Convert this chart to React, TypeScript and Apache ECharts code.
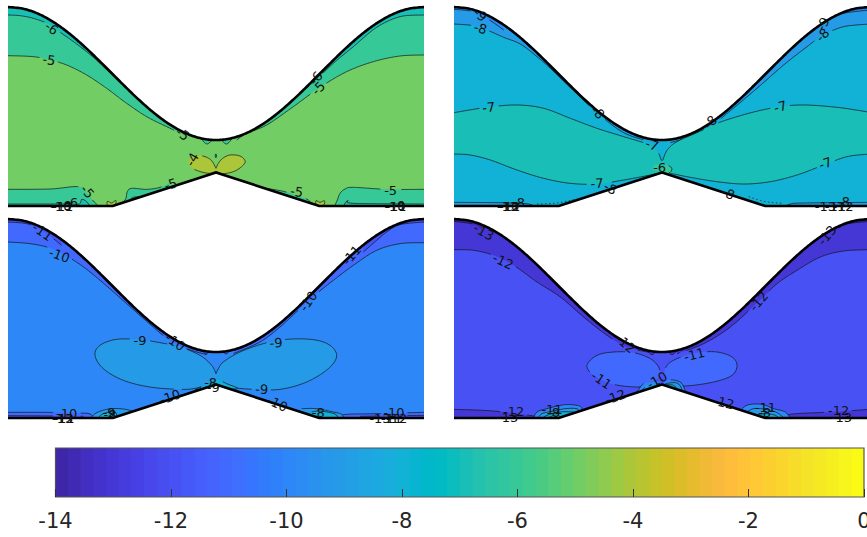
import React, { useEffect, useRef } from "react";
import * as echarts from "echarts";

type Pt = number[];
type Region = { level: number; line: Pt[]; close: string; dash?: boolean };
type Label = any[];

const PARULA: number[][] = [
  [0.2422,0.1504,0.6603],[0.2504,0.165,0.7076],[0.2578,0.1818,0.7511],[0.2647,0.1978,0.7952],[0.2706,0.2147,0.8364],[0.2751,0.2342,0.871],[0.2783,0.2559,0.8991],[0.2803,0.2782,0.9221],
  [0.2813,0.3006,0.9414],[0.281,0.3228,0.9579],[0.2795,0.3447,0.9717],[0.276,0.3667,0.9829],[0.2699,0.3892,0.9906],[0.2602,0.4123,0.9952],[0.244,0.4358,0.9988],[0.2206,0.4603,0.9973],
  [0.1963,0.4847,0.9892],[0.1834,0.5074,0.9798],[0.1786,0.5289,0.9682],[0.1764,0.5499,0.952],[0.1687,0.5703,0.9359],[0.154,0.5902,0.9218],[0.146,0.6091,0.9079],[0.138,0.6276,0.8973],
  [0.1248,0.6459,0.8883],[0.1113,0.6635,0.8763],[0.0952,0.6798,0.8598],[0.0689,0.6948,0.8394],[0.0297,0.7082,0.8163],[0.0036,0.7203,0.7917],[0.0067,0.7312,0.766],[0.0433,0.7411,0.7394],
  [0.0964,0.75,0.712],[0.1408,0.7584,0.6842],[0.1717,0.767,0.6554],[0.1938,0.7758,0.6251],[0.2161,0.7843,0.5923],[0.247,0.7918,0.5567],[0.2906,0.7973,0.5188],[0.3406,0.8008,0.4789],
  [0.3909,0.8029,0.4354],[0.4456,0.8024,0.3909],[0.5044,0.7993,0.348],[0.5616,0.7942,0.3045],[0.6174,0.7876,0.2612],[0.672,0.7793,0.2227],[0.7242,0.7698,0.191],[0.7738,0.7598,0.1646],
  [0.8203,0.7498,0.1535],[0.8634,0.7406,0.1596],[0.9035,0.733,0.1774],[0.9393,0.7288,0.21],[0.9728,0.7298,0.2394],[0.9956,0.7434,0.2371],[0.997,0.7659,0.2199],[0.9952,0.7893,0.2028],
  [0.9892,0.8136,0.1885],[0.9786,0.8386,0.1766],[0.9676,0.8639,0.1643],[0.961,0.889,0.1537],[0.9597,0.9135,0.1423],[0.9628,0.9373,0.1265],[0.9691,0.9606,0.1064],[0.9769,0.9839,0.0805],
];

const UPPER_WALL: Pt[] = [[24,21],[72,26.7],[120,43.8],[168,71.1],[216,107.1],[264,149.7],[312,196.5],[360,244.5],[408,291.3],[456,333.9],[504,369.9],[552,397.2],[600,414.3],[648,420],[696,414.3],[744,397.2],[792,369.9],[840,333.9],[888,291.3],[936,244.5],[984,196.5],[1032,149.7],[1080,107.1],[1128,71.1],[1176,43.8],[1224,26.7],[1272,21]];
const LOWER_WALL: Pt[] = [[24,618],[338,618],[648,517.5],[958,618],[1272,618]];

const P1_BASE = -5;
const P1_REGIONS: Region[] = [
  { level: -6, close: "up", line: [[24,167],[100,170],[150,180],[200,195],[260,225],[320,265],[380,310],[440,350],[500,380],[560,408]] },
  { level: -6, close: "up", line: [[1272,165],[1200,168],[1120,185],[1040,215],[960,262],[880,320],[800,375],[740,400],[710,420]] },
  { level: -7, close: "up", line: [[24,45],[60,47],[100,55],[145,72],[185,100],[230,132],[280,172],[340,228]] },
  { level: -7, close: "up", line: [[1272,45],[1200,50],[1130,82],[1060,140],[1000,190],[950,238],[910,272]] },
  { level: -6, close: "up", line: [[605,418],[620,432],[635,422]] },
  { level: -6, close: "up", line: [[665,422],[680,432],[695,418]] },
  { level: -6, close: "down", line: [[24,568],[150,567],[235,560],[262,580],[280,603],[300,622]] },
  { level: -6, close: "down", line: [[345,622],[375,600],[382,575],[395,565],[440,568],[480,562],[510,548]] },
  { level: -6, close: "down", line: [[785,563],[850,574],[900,590],[925,600],[950,625]] },
  { level: -6, close: "down", line: [[1002,622],[1012,600],[1020,580],[1035,567],[1060,562],[1160,568],[1272,568]] },
  { level: -7, close: "down", line: [[24,612],[200,612],[238,612],[245,598],[260,605],[272,622]] },
  { level: -7, close: "down", line: [[1030,622],[1036,608],[1045,602],[1060,610],[1272,612]] },
  { level: -7, close: "open", line: [[385,604],[400,592],[425,590]] },
  { level: -4, close: "loop", line: [[322,618],[322,604],[335,609],[347,601],[347,612],[340,618],[322,618]] },
  { level: -4, close: "loop", line: [[948,618],[948,602],[960,607],[973,602],[973,612],[966,618],[948,618]] },
  { level: -4, close: "loop", line: [[648,505],[635,482],[615,470],[590,466],[572,475],[567,490],[580,506],[605,516],[630,520],[648,515],[670,521],[705,513],[730,495],[735,482],[720,468],[690,465],[668,475],[655,490],[648,505]] },
  { level: -7, close: "loop", line: [[646,463],[649,463],[649,472],[646,472],[646,463]] },
];
const P1_LABELS: Label[] = [
  ["-6",155,85,-35],["-5",147,180,-8],["-6",948,235,50],["-5",955,265,45],["-5",262,575,-50],["-5",548,402,-35],
  ["-4",577,478,60],["-5",512,553,18],["-5",890,575,-8],["-5",1172,570,0],["-6",215,607,0,0],
  ["-10",183,618,0,0],["-11",188,618,0,0],["-9",197,617,0,0],["-10",1185,618,0,0],["-9",1197,617,0,0],["-11",1188,618,0,0],
];

const P2_BASE = -8;
const P2_REGIONS: Region[] = [
  { level: -7, close: "down", line: [[51,338],[150,322],[240,315],[320,325],[400,355],[480,385],[560,410],[625,430],[650,445],[665,460],[675,482],[685,460],[695,445],[720,425],[800,385],[900,350],[1000,325],[1090,315],[1200,322],[1299,337]] },
  { level: -8, close: "down", line: [[51,462],[100,465],[160,480],[240,510],[320,535],[400,550],[480,552],[560,540],[640,525],[673,517],[700,520],[760,532],[840,545],[920,552],[1000,545],[1080,525],[1160,495],[1230,470],[1299,462]] },
  { level: -9, close: "up", line: [[51,72],[110,77],[150,90],[200,112],[250,132],[300,170],[340,205],[400,263],[480,338],[560,398],[640,425],[670,432]] },
  { level: -9, close: "up", line: [[1299,72],[1230,78],[1190,90],[1157,105],[1110,140],[1040,195],[960,265],[880,332],[820,378],[740,415],[700,428]] },
  { level: -10, close: "up", line: [[51,28],[100,33],[130,45],[165,65],[200,90]] },
  { level: -10, close: "up", line: [[1299,30],[1230,38],[1190,50],[1158,72],[1130,92]] },
  { level: -9, close: "down", line: [[51,607],[190,608],[240,610],[275,612],[300,622]] },
  { level: -9, close: "down", line: [[1040,622],[1060,612],[1100,609],[1299,607]] },
  { level: -8, close: "open", dash: true, line: [[300,612],[360,609],[420,597]] },
  { level: -8, close: "open", dash: true, line: [[935,590],[985,605],[1040,610]] },
  { level: -6, close: "loop", line: [[672,515],[650,510],[648,503],[658,493],[670,497],[673,508],[680,498],[695,497],[705,507],[695,520],[672,522],[672,515]] },
];
const P2_LABELS: Label[] = [
  ["-9",130,45,-40],["-8",130,85,-15],["-7",155,322,5],["-8",482,337,-45],["-8",820,367,45],["-9",1158,72,60],["-8",1157,105,45],
  ["-7",1030,320,15],["-7",645,435,-20],["-6",668,503,0],["-7",480,550,3],["-8",520,565,-30],["-7",1165,490,20],["-8",873,580,-25],
  ["-13",212,619,0,0],["-12",218,619,0,0],["-10",215,618,0,0],["-8",245,607,0,0],["-13",1165,620,0,0],["-11",1195,620,0,0],["-12",1218,620,0,0],["-8",1220,605,0,0],
];

const P3_BASE = -10;
const P3_REGIONS: Region[] = [
  { level: -11, close: "up", line: [[24,90],[90,95],[150,108],[205,135],[260,172],[320,222],[380,275],[440,328],[500,378],[560,410],[620,428]] },
  { level: -11, close: "up", line: [[1272,92],[1200,95],[1130,115],[1060,160],[1000,205],[950,245],[900,290],[840,345],[780,390],[700,425]] },
  { level: -12, close: "up", line: [[24,30],[80,35],[120,52],[150,72],[185,100]] },
  { level: -12, close: "up", line: [[1272,30],[1200,38],[1160,60],[1130,85],[1090,120]] },
  { level: -11, close: "up", line: [[608,418],[618,426],[628,418]] },
  { level: -11, close: "up", line: [[668,418],[678,426],[688,418]] },
  { level: -9, close: "loop", line: [[648,485],[635,460],[600,430],[540,405],[480,392],[420,383],[350,382],[300,400],[285,430],[310,470],[370,505],[450,525],[540,532],[590,528],[640,510],[648,508],[660,510],[700,526],[760,532],[840,532],[920,510],[985,470],[1010,432],[990,400],[940,383],[860,382],[790,395],[720,420],[670,450],[655,470],[648,485]] },
  { level: -8, close: "loop", line: [[585,533],[620,518],[650,503],[680,515],[712,530],[648,530],[585,533]] },
  { level: -11, close: "down", line: [[24,601],[140,601],[235,603],[270,606],[285,622]] },
  { level: -11, close: "down", line: [[1020,622],[1030,608],[1130,605],[1272,601]] },
  { level: -12, close: "down", line: [[24,611],[170,612],[250,613]] },
  { level: -12, close: "down", line: [[1080,613],[1272,610]] },
  { level: -9, close: "down", line: [[272,622],[285,605],[320,592],[360,590],[395,597],[400,610]] },
  { level: -8, close: "down", line: [[290,622],[310,605],[345,600],[352,622]] },
  { level: -9, close: "down", line: [[905,590],[950,590],[1000,600],[1025,607],[1032,622]] },
  { level: -8, close: "down", line: [[935,600],[960,597],[1005,606],[1015,622]] },
];
const P3_LABELS: Label[] = [
  ["-11",127,60,-35],["-10",178,130,-20],["-11",1055,130,50],["-10",925,268,55],["-9",420,386,0],["-9",828,393,3],["-10",525,390,-35],
  ["-9",785,532,-3],["-8",632,510,0],["-9",640,525,0],["-10",510,555,20],["-10",832,575,-25],["-10",200,603,0],["-9",327,600,0,0],["-8",330,607,0,0],
  ["-8",955,600,0,0],["-10",1182,600,0],["-13",188,619,0,0],["-12",190,618,0,0],["-11",192,618,0,0],["-13",1140,619,0,0],["-11",1175,618,0,0],["-12",1190,618,0,0],
];

const P4_BASE = -12;
const P4_REGIONS: Region[] = [
  { level: -13, close: "up", line: [[51,113],[110,115],[170,130],[230,160],[300,210],[370,255],[440,315],[510,370],[570,405],[640,422]] },
  { level: -13, close: "up", line: [[1299,113],[1220,117],[1150,135],[1080,175],[1020,215],[965,268],[880,345],[800,395],[720,425]] },
  { level: -14, close: "up", line: [[51,28],[110,37],[135,55]] },
  { level: -14, close: "up", line: [[1299,28],[1230,36],[1195,55]] },
  { level: -13, close: "up", line: [[632,418],[645,428],[658,418]] },
  { level: -13, close: "up", line: [[692,418],[705,428],[718,418]] },
  { level: -11, close: "loop", line: [[670,490],[665,465],[640,440],[590,422],[530,420],[480,430],[450,460],[470,490],[530,517],[605,525],[640,515],[670,490]] },
  { level: -11, close: "loop", line: [[680,490],[690,460],[720,440],[780,422],[840,420],[885,435],[900,460],[885,490],[830,510],[745,522],[700,515],[680,490]] },
  { level: -10, close: "down", line: [[600,540],[620,515],[650,510],[668,510],[674,528]] },
  { level: -9, close: "down", line: [[612,540],[630,520],[655,515],[672,515]] },
  { level: -8, close: "down", line: [[625,540],[650,522],[670,520]] },
  { level: -10, close: "down", line: [[680,515],[690,505],[715,505],[735,515],[748,545]] },
  { level: -9, close: "down", line: [[685,515],[715,512],[730,522],[738,545]] },
  { level: -8, close: "down", line: [[685,518],[710,520],[722,535]] },
  { level: -13, close: "down", line: [[51,592],[170,597],[290,612],[300,622]] },
  { level: -13, close: "down", line: [[1050,622],[1060,607],[1180,600],[1299,592]] },
  { level: -10, close: "down", line: [[288,622],[300,600],[330,590],[385,578],[430,583],[435,600]] },
  { level: -9, close: "down", line: [[300,622],[315,605],[345,598],[385,590],[420,590],[425,600]] },
  { level: -8, close: "down", line: [[312,622],[330,610],[370,600],[410,600]] },
  { level: -7, close: "down", line: [[325,622],[345,612],[365,610],[372,622]] },
  { level: -10, close: "down", line: [[915,590],[935,578],[975,577],[1010,590],[1045,600],[1062,622]] },
  { level: -9, close: "down", line: [[930,600],[950,590],[985,592],[1020,602],[1045,622]] },
  { level: -8, close: "down", line: [[950,610],[985,605],[1015,610],[1030,622]] },
];
const P4_LABELS: Label[] = [
  ["-13",140,60,-30],["-12",198,148,-25],["-13",1170,70,50],["-12",965,268,50],["-12",565,395,-40],["-11",772,428,15],["-11",493,505,-35],
  ["-10",660,505,30],["-12",535,555,20],["-12",860,572,-15],["-12",230,597,0],["-13",212,615,0,0],["-11",345,592,0,0],["-8",350,600,0,0],
  ["-11",985,585,0,0],["-8",983,600,0,0],["-12",1205,595,0],["-13",1213,615,0,0],
];

const PANELS = [
  { base: P1_BASE, regions: P1_REGIONS, labels: P1_LABELS, left: 8, top: 7, shift: 0 },
  { base: P2_BASE, regions: P2_REGIONS, labels: P2_LABELS, left: 454, top: 7, shift: 27 },
  { base: P3_BASE, regions: P3_REGIONS, labels: P3_LABELS, left: 8, top: 219, shift: 0 },
  { base: P4_BASE, regions: P4_REGIONS, labels: P4_LABELS, left: 454, top: 219, shift: 27 },
];

const toCss = (c: number[]) => `rgb(${c.map((v) => Math.round(v * 255)).join(",")})`;
const levelColor = (level: number) => toCss(PARULA[Math.floor(((level + 14) / 14) * 64)]);

// Renders a spline through the read points, in pixel space.
function spline(p: Pt[]): Pt[] {
  const out: Pt[] = [];
  for (let i = 0; i < p.length - 1; i++) {
    const a = p[Math.max(i - 1, 0)], b = p[i], c = p[i + 1], d = p[Math.min(i + 2, p.length - 1)];
    const n = Math.max(1, Math.ceil(Math.hypot(c[0] - b[0], c[1] - b[1]) / 1.5));
    for (let j = 0; j < n; j++) {
      const t = j / n, t2 = t * t, t3 = t2 * t;
      out.push([0, 1].map((k) => 0.5 * (2 * b[k] + (c[k] - a[k]) * t + (2 * a[k] - 5 * b[k] + 4 * c[k] - d[k]) * t2 + (3 * b[k] - a[k] - 3 * c[k] + d[k]) * t3)));
    }
  }
  out.push(p[p.length - 1]);
  return out;
}

function fieldSeries(idx: number) {
  const panel = PANELS[idx];
  const s = panel.shift;
  const items: any[] = [
    { level: panel.base, line: [[-200,-200],[1600,-200],[1600,900],[-200,900]], close: "base" },
    ...panel.regions,
    { white: true, line: UPPER_WALL.map((p) => [p[0] + s, p[1]]), close: "up" },
    { white: true, line: LOWER_WALL.map((p) => [p[0] + s, p[1]]), close: "downSharp" },
  ];
  return {
    type: "custom",
    xAxisIndex: idx,
    yAxisIndex: idx,
    coordinateSystem: "cartesian2d",
    clip: true,
    silent: true,
    z: 2,
    data: items.map((_, i) => [i]),
    renderItem: (params: any, api: any) => {
      const r = items[params.dataIndex];
      const px = r.line.map((p: Pt) => api.coord(p));
      const smooth = r.close === "base" || r.close === "downSharp" ? px : spline(px);
      const first = r.line[0], last = r.line[r.line.length - 1];
      const fill = r.white ? "#fff" : levelColor(r.level);
      const children: any[] = [];
      let poly: Pt[] | null = smooth;
      if (r.close === "up") poly = [...smooth, api.coord([last[0], -60]), api.coord([first[0], -60])];
      if (r.close === "down" || r.close === "downSharp") poly = [...smooth, api.coord([last[0], 680]), api.coord([first[0], 680])];
      if (r.close === "open") poly = null;
      if (poly) children.push({ type: "polygon", shape: { points: poly }, style: { fill, stroke: null } });
      if (!r.white && r.close !== "base") {
        const boxes = panel.labels.filter((l) => l[4] !== 0).map((l) => {
          const c = api.coord([l[1], l[2]]);
          return { c, a: (l[3] * Math.PI) / 180, w: String(l[0]).length * 4 + 1 };
        });
        const hidden = (p: Pt) => boxes.some((b) => {
          const dx = p[0] - b.c[0], dy = p[1] - b.c[1];
          const u = dx * Math.cos(b.a) - dy * Math.sin(b.a), v = dx * Math.sin(b.a) + dy * Math.cos(b.a);
          return Math.abs(u) < b.w && Math.abs(v) < 6;
        });
        let run: Pt[] = [];
        const flush = () => {
          if (run.length > 1) children.push({ type: "polyline", shape: { points: run }, style: { fill: null, stroke: "#111", lineWidth: 0.7, lineDash: r.dash ? [1.5, 2.5] : null } });
          run = [];
        };
        smooth.forEach((p: Pt) => { if (hidden(p)) flush(); else run.push(p); });
        flush();
      }
      return { type: "group", children };
    },
  };
}

function wallSeries(idx: number) {
  const s = PANELS[idx].shift;
  return {
    type: "custom",
    xAxisIndex: idx,
    yAxisIndex: idx,
    coordinateSystem: "cartesian2d",
    silent: true,
    z: 3,
    data: [[0], [1]],
    renderItem: (params: any, api: any) => {
      const wall = params.dataIndex === 0 ? UPPER_WALL : LOWER_WALL;
      const px = wall.map((p) => api.coord([p[0] + s, p[1]]));
      return { type: "polyline", shape: { points: params.dataIndex === 0 ? spline(px) : px }, style: { fill: null, stroke: "#000", lineWidth: 2.6, lineJoin: "round" } };
    },
  };
}

function labelSeries(idx: number) {
  const labels = PANELS[idx].labels;
  return {
    type: "custom",
    xAxisIndex: idx,
    yAxisIndex: idx,
    coordinateSystem: "cartesian2d",
    silent: true,
    z: 4,
    data: labels.map((_, i) => [i]),
    renderItem: (params: any, api: any) => {
      const l = labels[params.dataIndex];
      const c = api.coord([l[1], l[2]]);
      return {
        type: "text",
        x: c[0],
        y: c[1],
        rotation: (l[3] * Math.PI) / 180,
        style: { text: l[0], fill: "#111", font: '13px "DejaVu Sans"', align: "center", verticalAlign: "middle" },
      };
    },
  };
}

function buildOption() {
  const grids: any[] = PANELS.map((p) => ({ left: p.left, top: p.top, width: 416, height: 199, containLabel: false, outerBoundsMode: "none" }));
  grids.push({ left: 55.5, top: 448, width: 808.5, height: 49, outerBoundsMode: "none" });
  const xAxes: any[] = PANELS.map((p, i) => ({ type: "value", gridIndex: i, show: false, min: 24 + p.shift, max: 1272 + p.shift, splitLine: { show: false } }));
  const yAxes: any[] = PANELS.map((_, i) => ({ type: "value", gridIndex: i, show: false, inverse: true, min: 21, max: 618, splitLine: { show: false } }));
  xAxes.push({
    type: "value", gridIndex: 4, min: -14, max: 0, interval: 2, z: 6,
    axisLine: { show: false },
    axisTick: { show: true, inside: true, length: 8, lineStyle: { color: "#333", width: 1 } },
    splitLine: { show: false },
    axisLabel: { fontSize: 21, fontFamily: "DejaVu Sans", color: "#262626", margin: 13, showMinLabel: true, showMaxLabel: true },
  });
  yAxes.push({ type: "value", gridIndex: 4, show: false, min: 0, max: 1, splitLine: { show: false } });
  const bins = PARULA.map((_, i) => [i]);
  const colorbar = {
    type: "custom", xAxisIndex: 4, yAxisIndex: 4, coordinateSystem: "cartesian2d", silent: true, z: 2,
    data: [...bins, [64]],
    renderItem: (params: any, api: any) => {
      const i = params.dataIndex;
      if (i === 64) {
        const a = api.coord([-14, 1]), b = api.coord([0, 0]);
        return { type: "rect", shape: { x: a[0], y: a[1], width: b[0] - a[0], height: b[1] - a[1] }, style: { fill: null, stroke: "#555", lineWidth: 1.2 }, z2: 10 };
      }
      const a = api.coord([-14 + (i * 14) / 64, 1]), b = api.coord([-14 + ((i + 1) * 14) / 64, 0]);
      const right = i === 63 ? b[0] : b[0] + 1.5;
      return { type: "rect", shape: { x: a[0], y: a[1], width: right - a[0], height: b[1] - a[1] }, style: { fill: toCss(PARULA[i]) } };
    },
  };
  const series: any[] = [];
  PANELS.forEach((_, i) => series.push(fieldSeries(i), wallSeries(i), labelSeries(i)));
  series.push(colorbar);
  return { animation: false, backgroundColor: "#fff", grid: grids, xAxis: xAxes, yAxis: yAxes, series };
}

export default function App() {
  const ref = useRef<HTMLDivElement>(null);
  useEffect(() => {
    const chart = echarts.init(ref.current!, undefined, { renderer: "svg" });
    chart.setOption(buildOption());
    return () => chart.dispose();
  }, []);
  return <div ref={ref} style={{ position: "absolute", left: 0, top: 0, width: 867, height: 537 }} />;
}
